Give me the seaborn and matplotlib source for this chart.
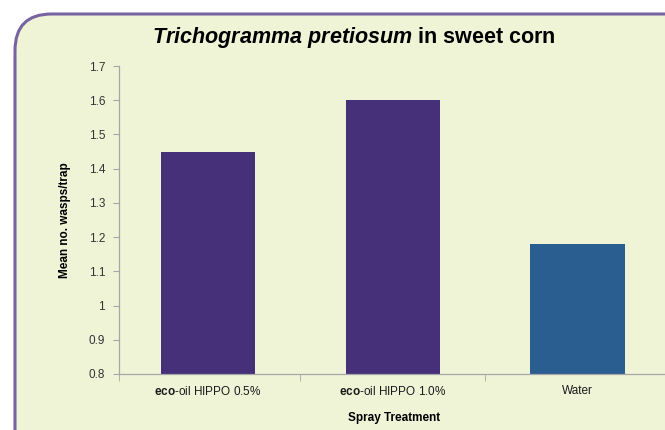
import matplotlib.pyplot as plt
import matplotlib.patches as mpatches
import pandas as pd
import seaborn as sns

sns.set_style("white")
plt.rcParams['font.family'] = ['Liberation Sans', 'DejaVu Sans']
plt.rcParams['mathtext.fontset'] = 'custom'
plt.rcParams['mathtext.rm'] = 'Liberation Sans'
plt.rcParams['mathtext.bf'] = 'Liberation Sans:bold'
plt.rcParams['mathtext.it'] = 'Liberation Sans:bold:italic'

# data
treatments = ["eco-oil HIPPO 0.5%", "eco-oil HIPPO 1.0%", "Water"]
tick_labels = [r"$\mathbf{eco}$-oil HIPPO 0.5%", r"$\mathbf{eco}$-oil HIPPO 1.0%", "Water"]
mean_wasps = [1.45, 1.60, 1.18]
bar_colors = ["#463079", "#463079", "#2B5E90"]

BG = "#F0F4D7"
BORDER = "#7763A1"

df = pd.DataFrame({"Treatment": treatments, "Mean": mean_wasps})

fig = plt.figure(figsize=(6.65, 4.3), dpi=100)
fig.patch.set_facecolor("white")

# rounded panel behind everything
panel = mpatches.FancyBboxPatch((15 / 665, -0.1), 1.1, (430 - 14) / 430 + 0.1,
                                boxstyle="round,pad=0,rounding_size=0.055",
                                transform=fig.transFigure, facecolor=BG,
                                edgecolor=BORDER, linewidth=2.2, zorder=-5,
                                mutation_aspect=665 / 430)
fig.patches.append(panel)

ax = fig.add_axes([119 / 665, 56 / 430, 551 / 665, 308 / 430])
ax.set_facecolor("none")
ax.set_zorder(2)

sns.barplot(data=df, x="Treatment", y="Mean", hue="Treatment",
            palette=bar_colors, width=0.51, legend=False, ax=ax,
            saturation=1, linewidth=0)

ax.set_ylim(0.8, 1.7)
ax.set_xlim(-0.48, 2.5)
ax.set_yticks([0.8, 0.9, 1.0, 1.1, 1.2, 1.3, 1.4, 1.5, 1.6, 1.7])
ax.set_yticklabels(["0.8", "0.9", "1", "1.1", "1.2", "1.3", "1.4", "1.5", "1.6", "1.7"])
ax.set_xticks([0, 1, 2])
ax.set_xticklabels(tick_labels)
ax.set_xticks([-0.48, 0.5, 1.5], minor=True)

for s in ["top", "right"]:
    ax.spines[s].set_visible(False)
for s in ["left", "bottom"]:
    ax.spines[s].set_color("#A6A6A6")
    ax.spines[s].set_linewidth(0.9)

ax.tick_params(axis="y", which="major", left=True, length=4, color="#A6A6A6",
               labelsize=8.5, labelcolor="#333333", pad=6)
ax.tick_params(axis="x", which="major", bottom=False, length=0,
               labelsize=8.5, labelcolor="#1a1a1a", pad=8)
ax.tick_params(axis="x", which="minor", bottom=True, length=5, color="#A6A6A6")

ax.set_xlabel("Spray Treatment", fontsize=8.5, fontweight="bold", labelpad=10,
              color="black")
ax.set_ylabel("Mean no. wasps/trap", fontsize=8.5, fontweight="bold", labelpad=13,
              color="black")

fig.text(354 / 665, 1 - 37 / 430,
         r"$\mathit{Trichogramma\ pretiosum}$ in sweet corn",
         ha="center", va="center", fontsize=15.5, fontweight="bold", color="black")

fig.savefig("out.png", dpi=100, facecolor=fig.get_facecolor())
